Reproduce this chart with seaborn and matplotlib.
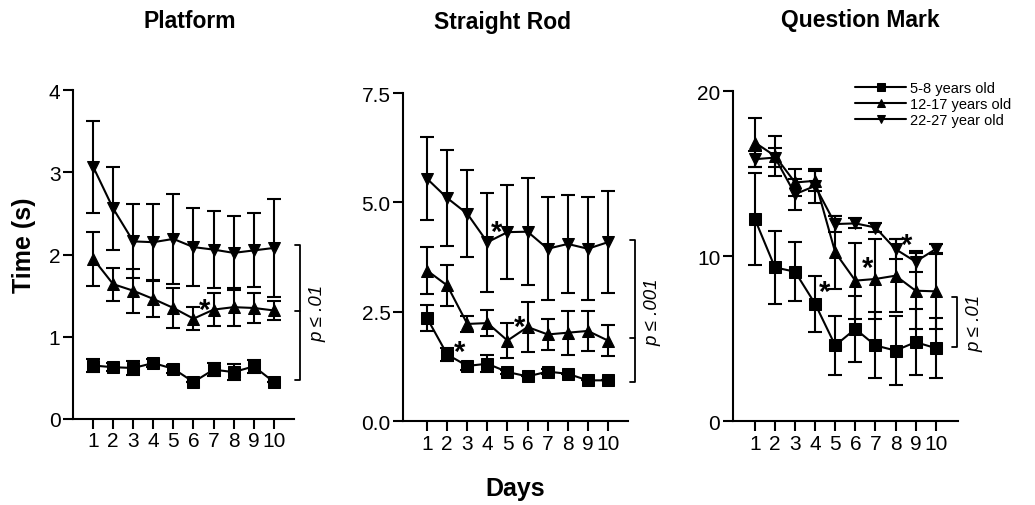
import numpy as np
import pandas as pd
import seaborn as sns
import matplotlib.pyplot as plt

days = list(range(1, 11))
groups = ['5-8 years old', '12-17 years old', '22-27 year old']
titles = ['Platform', 'Straight Rod', 'Question Mark']

# Platform
plat_young = [0.65, 0.63, 0.62, 0.68, 0.61, 0.45, 0.60, 0.57, 0.64, 0.45]
plat_young_err = [0.08, 0.05, 0.08, 0.05, 0.05, 0.0, 0.08, 0.10, 0.08, 0.0]
plat_teen = [1.95, 1.64, 1.56, 1.46, 1.35, 1.22, 1.33, 1.36, 1.35, 1.32]
plat_teen_err = [0.33, 0.20, 0.27, 0.22, 0.24, 0.14, 0.20, 0.23, 0.18, 0.12]
plat_adult = [3.07, 2.56, 2.16, 2.15, 2.19, 2.09, 2.06, 2.02, 2.05, 2.08]
plat_adult_err = [0.56, 0.50, 0.45, 0.46, 0.55, 0.47, 0.47, 0.45, 0.45, 0.60]

# Straight Rod
rod_young = [2.35, 1.52, 1.26, 1.31, 1.12, 1.02, 1.13, 1.08, 0.93, 0.93]
rod_young_err = [0.30, 0.15, 0.10, 0.20, 0.05, 0.0, 0.05, 0.0, 0.0, 0.0]
rod_teen = [3.44, 3.10, 2.22, 2.24, 1.84, 2.15, 1.98, 2.02, 2.06, 1.84]
rod_teen_err = [0.53, 0.46, 0.19, 0.30, 0.40, 0.57, 0.35, 0.50, 0.45, 0.35]
rod_adult = [5.54, 5.10, 4.74, 4.09, 4.32, 4.33, 3.94, 4.05, 3.94, 4.09]
rod_adult_err = [0.95, 1.10, 1.00, 1.13, 1.08, 1.22, 1.18, 1.12, 1.18, 1.17]

# Question Mark
qm_young = [12.24, 9.31, 9.05, 7.10, 4.58, 5.58, 4.58, 4.27, 4.78, 4.42]
qm_young_err = [2.8, 2.2, 1.8, 1.7, 1.8, 2.0, 2.0, 2.1, 2.0, 1.8]
qm_teen = [16.88, 16.07, 14.46, 14.56, 10.22, 8.51, 8.61, 8.81, 7.90, 7.86]
qm_teen_err = [1.5, 1.2, 0.8, 0.6, 2.2, 2.3, 2.4, 2.2, 2.3, 2.3]
qm_adult = [15.87, 15.97, 13.75, 14.25, 11.94, 11.98, 11.73, 10.42, 9.66, 10.42]
qm_adult_err = [0.5, 0.6, 0.95, 1.05, 0.5, 0.3, 0.3, 0.6, 0.65, 0.3]

means = [[plat_young, plat_teen, plat_adult],
         [rod_young, rod_teen, rod_adult],
         [qm_young, qm_teen, qm_adult]]
errs = [[plat_young_err, plat_teen_err, plat_adult_err],
        [rod_young_err, rod_teen_err, rod_adult_err],
        [qm_young_err, qm_teen_err, qm_adult_err]]

yticks = [[0, 1, 2, 3, 4], [0, 2.5, 5, 7.5], [0, 10, 20]]
yticklabels = [['0', '1', '2', '3', '4'], ['0.0', '2.5', '5.0', '7.5'], ['0', '10', '20']]

# significance stars (day, time)
stars = [[(6.55, 1.33)],
         [(2.6, 1.58), (4.45, 4.33), (5.6, 2.15)],
         [(4.45, 7.8), (6.6, 9.3), (8.55, 10.7)]]
# brackets: x, top, mid, bottom, label
brackets = [(11.3, 2.11, 1.31, 0.47, 'p \u2264 .01'),
            (11.35, 4.13, 1.90, 0.89, 'p \u2264 .001'),
            (11.05, 7.5, None, 4.48, 'p \u2264 .01')]

sns.set_style('ticks')
plt.rcParams['font.family'] = ['Liberation Sans', 'DejaVu Sans']
plt.rcParams['text.color'] = 'black'
plt.rcParams['axes.labelcolor'] = 'black'

fig = plt.figure(figsize=(10.35, 5.06), dpi=100)
positions = [[0.0705, 0.170, 0.2135, 0.650],
             [0.3894, 0.166, 0.2174, 0.648],
             [0.7080, 0.166, 0.2174, 0.652]]
xlims = [(0, 11), (-0.2, 11), (-0.1, 11.1)]
ylims = [(0, 4), (0, 7.5), (0, 20)]
markers = {groups[0]: 's', groups[1]: '^', groups[2]: 'v'}

for i in range(3):
    ax = fig.add_axes(positions[i])
    rows = []
    for g, grp in enumerate(groups):
        for d, m, e in zip(days, means[i][g], errs[i][g]):
            rows.append({'day': d, 'time': m, 'err': e, 'group': grp})
    df = pd.DataFrame(rows)
    for grp in groups:
        sub = df[df['group'] == grp]
        ax.errorbar(sub['day'], sub['time'], yerr=sub['err'], fmt='none',
                    ecolor='black', elinewidth=1.5, capsize=5, capthick=1.5)
    sns.lineplot(data=df, x='day', y='time', style='group', markers=markers,
                 dashes=False, color='black', linewidth=1.5, markersize=8,
                 markeredgecolor='black', errorbar=None, ax=ax,
                 legend=(i == 2))
    ax.set_xlim(*xlims[i])
    ax.set_ylim(*ylims[i])
    ax.set_xticks(days)
    ax.set_xticklabels([str(d) for d in days], fontsize=15)
    ax.set_yticks(yticks[i])
    ax.set_yticklabels(yticklabels[i], fontsize=15)
    ax.tick_params(axis='both', length=7, width=1.5, pad=2, colors='black')
    ax.set_xlabel('')
    ax.set_ylabel('')
    for s in ['left', 'bottom']:
        ax.spines[s].set_linewidth(1.5)
        ax.spines[s].set_color('black')
    sns.despine(ax=ax)

    for (sx, sy) in stars[i]:
        ax.text(sx, sy, '*', fontsize=21, fontweight='bold', ha='center', va='center')

    bx, btop, bmid, bbot, blab = brackets[i]
    w = 0.25
    ax.plot([bx - w, bx, bx, bx - w], [btop, btop, bbot, bbot], color='black',
            linewidth=1.3, clip_on=False)
    if bmid is not None:
        ax.plot([bx - w, bx], [bmid, bmid], color='black', linewidth=1.3, clip_on=False)
    ax.text(bx + 0.9, (btop + bbot) / 2, blab, rotation=90, fontsize=13.5,
            fontstyle='italic', ha='center', va='center')

    if i == 2:
        leg = ax.legend(loc='upper left', bbox_to_anchor=(855 / 1035, 1 - 82 / 506),
                        bbox_transform=fig.transFigure, frameon=False, fontsize=10.5,
                        handlelength=3.5, handletextpad=0.3, labelspacing=0.15,
                        borderpad=0, borderaxespad=0, markerscale=0.8)

fig.text(190 / 1035, 1 - 22 / 506, titles[0], fontsize=16.5, fontweight='bold', ha='center', va='center')
fig.text(502 / 1035, 1 - 22 / 506, titles[1], fontsize=16.5, fontweight='bold', ha='center', va='center')
fig.text(860 / 1035, 1 - 20 / 506, titles[2], fontsize=16.5, fontweight='bold', ha='center', va='center')
fig.text(24 / 1035, 1 - 245 / 506, 'Time (s)', fontsize=18, fontweight='bold', rotation=90,
         ha='center', va='center')
fig.text(515 / 1035, 1 - 489 / 506, 'Days', fontsize=18, fontweight='bold', ha='center', va='center')

fig.savefig('out.png', dpi=100)
